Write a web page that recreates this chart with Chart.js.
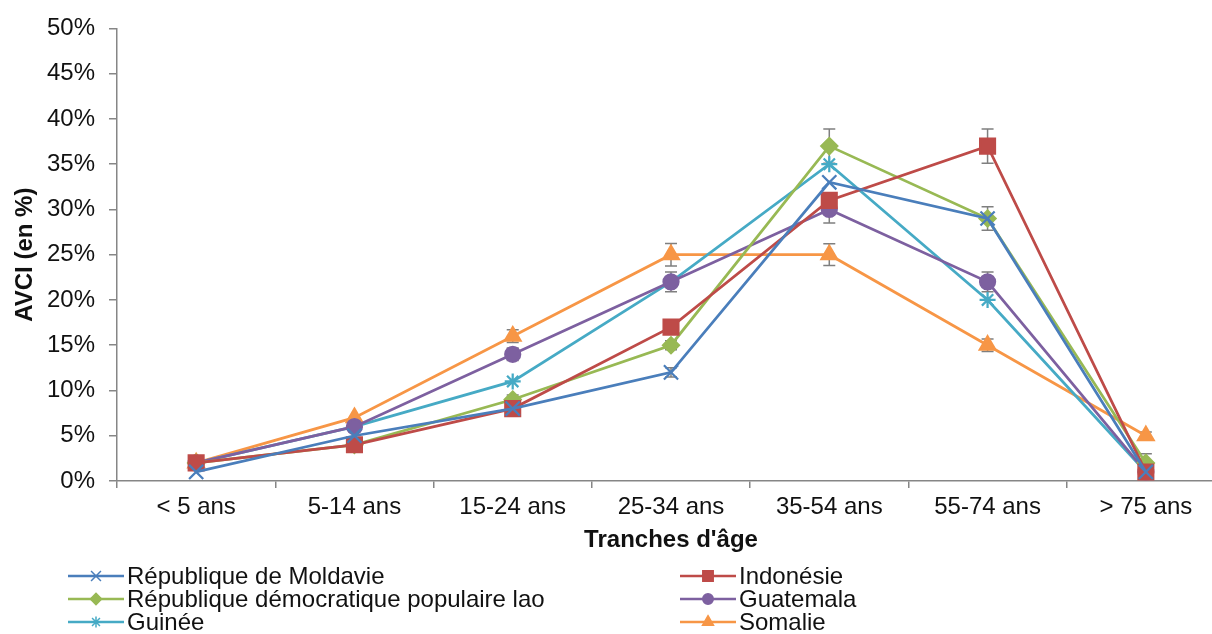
<!DOCTYPE html>
<html lang="fr">
<head>
<meta charset="utf-8">
<script src="https://cdn.jsdelivr.net/npm/chart.js@4/dist/chart.umd.min.js"></script>
<style>
  html, body { margin: 0; padding: 0; background: #fff; overflow: hidden; }
</style>
</head>
<body>
<canvas id="avci" width="1240" height="634"></canvas>
<script>
// tranches d'age
var ageGroups = ['< 5 ans', '5-14 ans', '15-24 ans', '25-34 ans', '35-54 ans', '55-74 ans', '> 75 ans'];

// AVCI en % par pays
var moldavie  = [1, 5, 8, 12, 33, 29, 1];
var indonesie = [2, 4, 8, 17, 31, 37, 1];
var lao       = [2, 4, 9, 15, 37, 29, 2];
var guatemala = [2, 6, 14, 22, 30, 22, 1];
var guinee    = [2, 6, 11, 22, 35, 20, 1];
var somalie   = [2, 7, 16, 25, 25, 15, 5];

// barres d'erreur (+/-)
var errMoldavie  = [0, 0, 0, 0.5, 0, 0, 0];
var errIndonesie = [0, 0, 0, 0, 0, 1.9, 0];
var errLao       = [0, 0, 0.5, 0.5, 1.9, 1.3, 1];
var errGuatemala = [0, 0, 0.7, 1.1, 1.5, 1.1, 0];
var errGuinee    = [0, 0, 0, 0, 0, 0, 0];
var errSomalie   = [0, 0, 0.7, 1.25, 1.2, 0.7, 0.4];

var yTicks = [0, 5, 10, 15, 20, 25, 30, 35, 40, 45, 50];

var font = "'Liberation Sans', Arial, sans-serif";
var axisGrey = '#868686';
var textCol = '#111';

function serie(label, data, err, color, style, radius) {
    return {
        label: label,
        data: data,
        err: err,
        borderColor: color,
        backgroundColor: color,
        borderWidth: 2.75,
        pointStyle: style,
        pointRadius: radius,
        pointHoverRadius: radius,
        pointBorderWidth: 2.25,
        pointBackgroundColor: color,
        pointBorderColor: color,
        tension: 0
    };
}

// barres d'erreur grises sous les marqueurs
var errorBars = {
    id: 'errorBars',
    beforeDatasetsDraw: function (chart) {
        var ctx = chart.ctx, x = chart.scales.x, y = chart.scales.y;
        ctx.save();
        ctx.strokeStyle = '#7f7f7f';
        ctx.lineWidth = 1.5;
        chart.data.datasets.forEach(function (ds) {
            ds.err.forEach(function (e, j) {
                if (!e) return;
                var px = x.getPixelForValue(j);
                var top = y.getPixelForValue(ds.data[j] + e);
                var bot = y.getPixelForValue(ds.data[j] - e);
                ctx.beginPath();
                ctx.moveTo(px, top); ctx.lineTo(px, bot);
                ctx.moveTo(px - 6, top); ctx.lineTo(px + 6, top);
                ctx.moveTo(px - 6, bot); ctx.lineTo(px + 6, bot);
                ctx.stroke();
            });
        });
        ctx.restore();
    }
};

// legende sur deux colonnes
var bottomLegend = {
    id: 'bottomLegend',
    afterDraw: function (chart) {
        var ctx = chart.ctx;
        var cols = [{x0: 68, x1: 124, tx: 127}, {x0: 680, x1: 736, tx: 739}];
        ctx.save();
        chart.data.datasets.forEach(function (ds, i) {
            var c = cols[i % 2];
            var yy = 576 + Math.floor(i / 2) * 23;
            ctx.strokeStyle = ds.borderColor;
            ctx.fillStyle = ds.borderColor;
            ctx.lineWidth = 2.5;
            ctx.beginPath();
            ctx.moveTo(c.x0, yy); ctx.lineTo(c.x1, yy);
            ctx.stroke();
            ctx.lineWidth = 1.5;
            Chart.helpers.drawPoint(ctx, {pointStyle: ds.pointStyle, radius: ds.pointRadius * 0.7, rotation: 0, borderWidth: 1.5}, (c.x0 + c.x1) / 2, yy);
            ctx.fillStyle = textCol;
            ctx.font = '24px ' + font;
            ctx.textBaseline = 'middle';
            ctx.textAlign = 'left';
            ctx.fillText(ds.label, c.tx, yy + 1);
        });
        ctx.restore();
    }
};

var ctx = document.getElementById('avci');
var chart = new Chart(ctx, {
    type: 'line',
    data: {
        labels: ageGroups,
        datasets: [
            serie('République de Moldavie', moldavie, errMoldavie, '#4A7EBB', 'crossRot', 10),
            serie('Indonésie', indonesie, errIndonesie, '#BE4B48', 'rect', 10.5),
            serie('République démocratique populaire lao', lao, errLao, '#98B954', 'rectRot', 8),
            serie('Guatemala', guatemala, errGuatemala, '#7D60A0', 'circle', 7.5),
            serie('Guinée', guinee, errGuinee, '#46AAC5', 'star', 8),
            serie('Somalie', somalie, errSomalie, '#F79646', 'triangle', 9)
        ]
    },
    options: {
        responsive: false,
        animation: false,
        events: [],
        layout: { padding: { left: 11, top: 25, right: 15, bottom: 79 } },
        plugins: {
            legend: { display: false },
            tooltip: { enabled: false }
        },
        scales: {
            x: {
                type: 'category',
                offset: true,
                grid: { offset: true, drawOnChartArea: false, drawTicks: true, tickLength: 7, color: axisGrey, lineWidth: 1.5 },
                border: { color: axisGrey, width: 1.5 },
                ticks: { font: { family: font, size: 24 }, color: textCol, padding: 5, maxRotation: 0, autoSkip: false },
                title: { display: true, text: "Tranches d'âge", font: { family: font, size: 24, weight: 'bold' }, color: textCol, padding: 0 },
                afterFit: function (s) { s.height = 74; }
            },
            y: {
                min: 0,
                max: 50,
                afterBuildTicks: function (s) { s.ticks = yTicks.map(function (v) { return { value: v }; }); },
                grid: { drawOnChartArea: false, drawTicks: true, tickLength: 8, color: axisGrey, lineWidth: 1.5 },
                border: { color: axisGrey, width: 1.5 },
                ticks: { font: { family: font, size: 24 }, color: textCol, padding: 14, callback: function (v) { return v + '%'; } },
                title: { display: true, text: 'AVCI (en %)', font: { family: font, size: 24, weight: 'bold' }, color: textCol, padding: 0 },
                afterFit: function (s) { s.width = 106; }
            }
        }
    },
    plugins: [errorBars, bottomLegend]
});
</script>
</body>
</html>
